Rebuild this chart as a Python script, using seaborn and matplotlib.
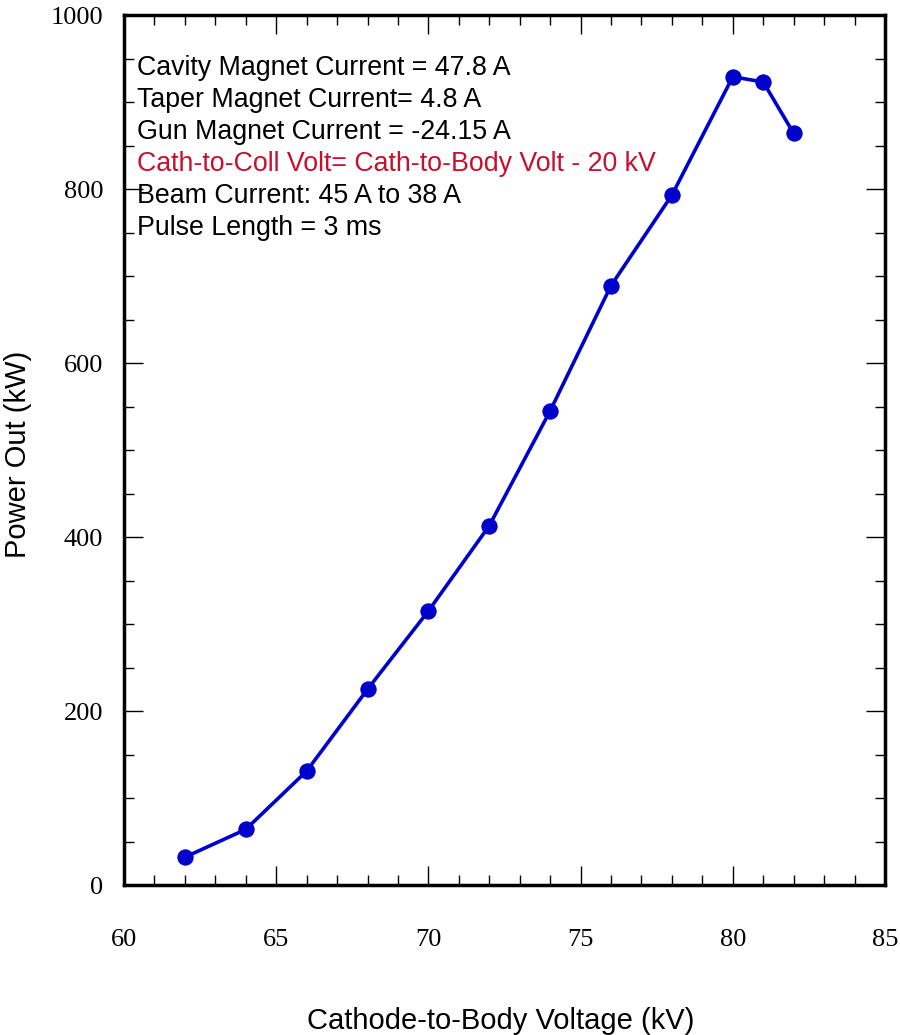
import matplotlib
matplotlib.use("Agg")
import matplotlib.pyplot as plt
import seaborn as sns
import pandas as pd
from matplotlib.ticker import MultipleLocator

voltage = [62, 64, 66, 68, 70, 72, 74, 76, 78, 80, 81, 82]
power = [32, 64, 131, 225, 315, 413, 545, 689, 793, 929, 923, 864]

notes = [
    ("Cavity Magnet Current = 47.8 A", "black"),
    ("Taper Magnet Current= 4.8 A", "black"),
    ("Gun Magnet Current = -24.15 A", "black"),
    ("Cath-to-Coll Volt= Cath-to-Body Volt - 20 kV", "#C8102E"),
    ("Beam Current: 45 A to 38 A", "black"),
    ("Pulse Length = 3 ms", "black"),
]

sns.set_style("white")
plt.rcParams['font.family'] = ['Liberation Sans', 'DejaVu Sans']

df = pd.DataFrame({"v": voltage, "p": power})

fig = plt.figure(figsize=(9, 10.35), dpi=100)
ax = fig.add_axes([0.1378, 0.1449, 0.8455, 0.8406])

sns.lineplot(data=df, x="v", y="p", ax=ax, color="#0000CC", linewidth=2.6,
             marker="o", markersize=11, markeredgecolor="#0000CC")

ax.set_xlim(60, 85)
ax.set_ylim(0, 1000)
ax.xaxis.set_major_locator(MultipleLocator(5))
ax.xaxis.set_minor_locator(MultipleLocator(1))
ax.yaxis.set_major_locator(MultipleLocator(200))
ax.yaxis.set_minor_locator(MultipleLocator(50))
ax.tick_params(which="both", direction="in", top=True, right=True, bottom=True, left=True, color="black")
ax.tick_params(which="major", length=14, width=1, labelsize=19,
               labelfontfamily="Liberation Serif", labelcolor="black")
ax.tick_params(which="minor", length=7, width=1)
ax.tick_params(axis="x", which="major", pad=32)
ax.tick_params(axis="y", which="major", pad=15)

for s in ax.spines.values():
    s.set_linewidth(2.5)
    s.set_color("black")

ax.set_xlabel("Cathode-to-Body Voltage (kV)", fontsize=21, color="black")
ax.set_ylabel("Power Out (kW)", fontsize=21, color="black")
ax.xaxis.set_label_coords(0.495, -0.156)
ax.xaxis.label.set_va("center")
ax.yaxis.set_label_coords(-0.139, 0.495)
ax.yaxis.label.set_va("center")

y0 = 0.939
for i, (txt, col) in enumerate(notes):
    ax.text(0.017, y0 - i * 0.0368, txt, transform=ax.transAxes, fontsize=19.3,
            color=col, va="center", ha="left")

fig.savefig("out.png", dpi=100)
